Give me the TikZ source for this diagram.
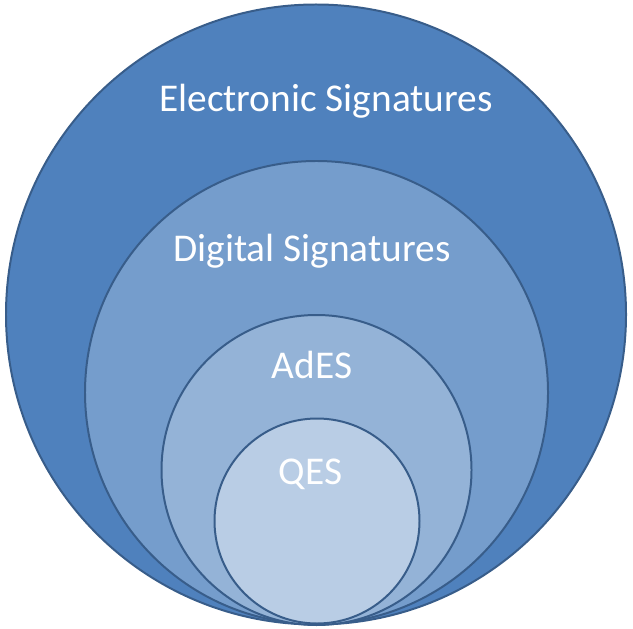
\documentclass[tikz,border=0pt]{standalone}
\usepackage{fontspec}
\setmainfont{Carlito}
\usepackage{tikz}
\definecolor{ringline}{RGB}{56,93,138}
\definecolor{esig}{RGB}{79,129,189}
\definecolor{dsig}{RGB}{117,157,204}
\definecolor{ades}{RGB}{148,179,215}
\definecolor{qes}{RGB}{185,205,229}
\tikzset{
    ring/.style={
        line width=2pt,
        draw=ringline
    },
    ringlabel/.style={
        white,
        anchor=base,
        inner sep=0pt,
        font=\fontsize{39.5}{44}\selectfont
    }
}

\begin{document}
\begin{tikzpicture}[x=1bp,y=-1bp]
    \useasboundingbox (0,0) rectangle (633,629);
    % ===================== rings =====================
    \path
    (316,314.5) coordinate (c1)
    (316.5,392.5) coordinate (c2)
    (316.5,470) coordinate (c3)
    (317,521) coordinate (c4);
    \draw[ring,fill=esig] (c1) circle (310bp);
    \draw[ring,fill=dsig] (c2) circle (231.5bp);
    \draw[ring,fill=ades] (c3) circle (155bp);
    \draw[ring,fill=qes] (c4) circle (102.5bp);

    %label
    \node[ringlabel] (electronic) at (326,112) {Electronic Signatures};
    \node[ringlabel] (digital) at (312,261.6) {Digital Signatures};
    \node[ringlabel] (adesl) at (312,378) {AdES};
    \node[ringlabel] (qesl) at (310.5,484.5) {QES};
\end{tikzpicture}
\end{document}
